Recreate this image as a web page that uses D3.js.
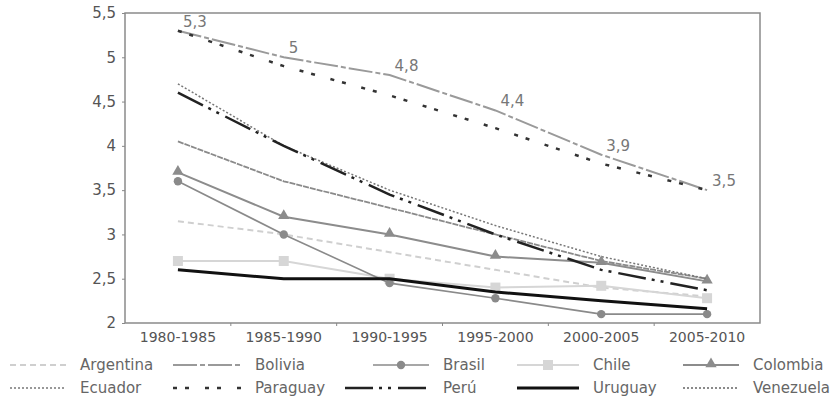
<!DOCTYPE html>
<html>
<head>
<meta charset="utf-8">
<script src="https://cdn.jsdelivr.net/npm/d3@7"></script>
<style>
  body { margin: 0; background: #fff; }
  svg { font-family: "DejaVu Sans", sans-serif; }
  .label { fill: #777; font-size: 15px; }
  .legtext { fill: #666; font-size: 15px; }
</style>
</head>
<body>
<div id="chart"></div>
<script>
// periods on the x axis
var periods = ['1980-1985', '1985-1990', '1990-1995', '1995-2000', '2000-2005', '2005-2010'];
var yTicks = [2, 2.5, 3, 3.5, 4, 4.5, 5, 5.5];

// fertility rates
var argentina = [3.15, 3.0, 2.8, 2.6, 2.4, 2.3];
var bolivia   = [5.3, 5.0, 4.8, 4.4, 3.9, 3.5];
var brasil    = [3.6, 3.0, 2.45, 2.28, 2.1, 2.1];
var chile     = [2.7, 2.7, 2.5, 2.4, 2.42, 2.28];
var colombia  = [3.7, 3.2, 3.0, 2.75, 2.68, 2.47];
var ecuador   = [4.7, 4.0, 3.5, 3.1, 2.75, 2.5];
var paraguay  = [5.3, 4.9, 4.57, 4.2, 3.8, 3.5];
var peru      = [4.6, 4.0, 3.45, 3.0, 2.6, 2.37];
var uruguay   = [2.6, 2.5, 2.5, 2.35, 2.25, 2.16];
var venezuela = [4.05, 3.6, 3.3, 3.0, 2.7, 2.5];

var boliviaLabels = ['5,3', '5', '4,8', '4,4', '3,9', '3,5'];

var series = [
  {name: 'Argentina', values: argentina, color: '#cfcfcf', width: 2, dash: '6,4'},
  {name: 'Bolivia', values: bolivia, color: '#9a9a9a', width: 2, dash: '24,3,5,3'},
  {name: 'Brasil', values: brasil, color: '#8a8a8a', width: 1.6, dash: null, mark: 'circle'},
  {name: 'Chile', values: chile, color: '#d6d6d6', width: 2, dash: null, mark: 'square'},
  {name: 'Colombia', values: colombia, color: '#8c8c8c', width: 2, dash: null, mark: 'triangle'},
  {name: 'Ecuador', values: ecuador, color: '#777', width: 1.5, dash: '2,2'},
  {name: 'Paraguay', values: paraguay, color: '#333', width: 2.5, dash: '4,8,4,16'},
  {name: 'Perú', values: peru, color: '#222', width: 2.5, dash: '28,6,3,6,3,7'},
  {name: 'Uruguay', values: uruguay, color: '#111', width: 3, dash: null},
  {name: 'Venezuela', values: venezuela, color: '#8a8a8a', width: 1.8, dash: '6,1'}
];

var W = 840, H = 406;
var pLeft = 125, pRight = 760, pTop = 13, pBottom = 323;

var svg = d3.select('#chart').append('svg')
  .attr('width', W)
  .attr('height', H);

var x = d3.scaleBand().domain(periods).range([pLeft, pRight]);
var y = d3.scaleLinear().domain([2, 5.5]).range([pBottom, pTop]);

function cx(i) {
  return x(periods[i]) + x.bandwidth() / 2;
}

// frame
svg.append('rect')
  .attr('x', pLeft).attr('y', pTop)
  .attr('width', pRight - pLeft).attr('height', pBottom - pTop)
  .attr('fill', 'none')
  .attr('stroke', '#8a8a8a')
  .attr('stroke-width', 1.5);

// y axis
var yAxis = svg.append('g')
  .attr('transform', 'translate(' + pLeft + ',0)')
  .call(d3.axisLeft(y).tickValues(yTicks).tickSize(3).tickPadding(6)
    .tickFormat(function (d) { return String(d).replace('.', ','); }));
yAxis.select('.domain').remove();
yAxis.selectAll('line').attr('stroke', '#888');
yAxis.selectAll('text')
  .style('font-family', '"DejaVu Sans", sans-serif')
  .style('font-size', '15px')
  .attr('fill', '#555');

// x axis labels
var xAxis = svg.append('g')
  .attr('transform', 'translate(0,' + pBottom + ')')
  .call(d3.axisBottom(x).tickSize(0).tickPadding(9));
xAxis.select('.domain').remove();
xAxis.selectAll('text')
  .style('font-family', '"DejaVu Sans", sans-serif')
  .style('font-size', '14px')
  .attr('fill', '#555');

// x ticks at band edges
svg.selectAll('line.xtick')
  .data(periods.slice(1))
  .enter().append('line')
  .attr('class', 'xtick')
  .attr('x1', function (d) { return x(d); })
  .attr('x2', function (d) { return x(d); })
  .attr('y1', pBottom)
  .attr('y2', pBottom + 3)
  .attr('stroke', '#888');

var line = d3.line()
  .x(function (d, i) { return cx(i); })
  .y(function (d) { return y(d); });

function drawMark(g, type, px, py, color) {
  if (type === 'circle') {
    g.append('circle').attr('cx', px).attr('cy', py).attr('r', 4.2).attr('fill', color);
  } else if (type === 'square') {
    g.append('rect').attr('x', px - 5).attr('y', py - 5).attr('width', 10).attr('height', 10).attr('fill', color);
  } else if (type === 'triangle') {
    g.append('path')
      .attr('d', d3.symbol().type(d3.symbolTriangle).size(55)())
      .attr('transform', 'translate(' + px + ',' + (py - 1) + ')')
      .attr('fill', color);
  }
}

// draw order: light ones first, dark ones on top
var order = ['Argentina', 'Chile', 'Brasil', 'Venezuela', 'Colombia', 'Ecuador', 'Bolivia', 'Paraguay', 'Perú', 'Uruguay'];
order.forEach(function (nm) {
  var s = series.filter(function (d) { return d.name === nm; })[0];
  var g = svg.append('g');
  g.append('path')
    .datum(s.values)
    .attr('d', line)
    .attr('fill', 'none')
    .attr('stroke', s.color)
    .attr('stroke-width', s.width)
    .attr('stroke-dasharray', s.dash);
  if (s.mark) {
    s.values.forEach(function (v, i) {
      drawMark(g, s.mark, cx(i), y(v), s.color);
    });
  }
});

// Bolivia value labels
svg.selectAll('text.label')
  .data(bolivia)
  .enter().append('text')
  .attr('class', 'label')
  .attr('x', function (d, i) { return cx(i) + 5; })
  .attr('y', function (d) { return y(d) - 4; })
  .text(function (d, i) { return boliviaLabels[i]; });

// legend
var legSym = [10, 173, 373, 517, 683];
var legText = [80, 255, 443, 593, 753];
var legRow = [365, 388];

series.forEach(function (s, k) {
  var col = k % 5, row = Math.floor(k / 5);
  var x0 = legSym[col], x1 = legText[col] - 14;
  if (s.name === 'Perú') x0 = 345;
  var ly = legRow[row];
  var g = svg.append('g');
  g.append('line')
    .attr('x1', x0).attr('x2', x1)
    .attr('y1', ly).attr('y2', ly)
    .attr('stroke', s.color)
    .attr('stroke-width', s.width)
    .attr('stroke-dasharray', s.name === 'Venezuela' ? '2,2' : s.dash);
  if (s.mark) drawMark(g, s.mark, (x0 + x1) / 2, ly, s.color);
  g.append('text')
    .attr('class', 'legtext')
    .attr('x', legText[col])
    .attr('y', ly + 5)
    .text(s.name);
});
</script>
</body>
</html>
